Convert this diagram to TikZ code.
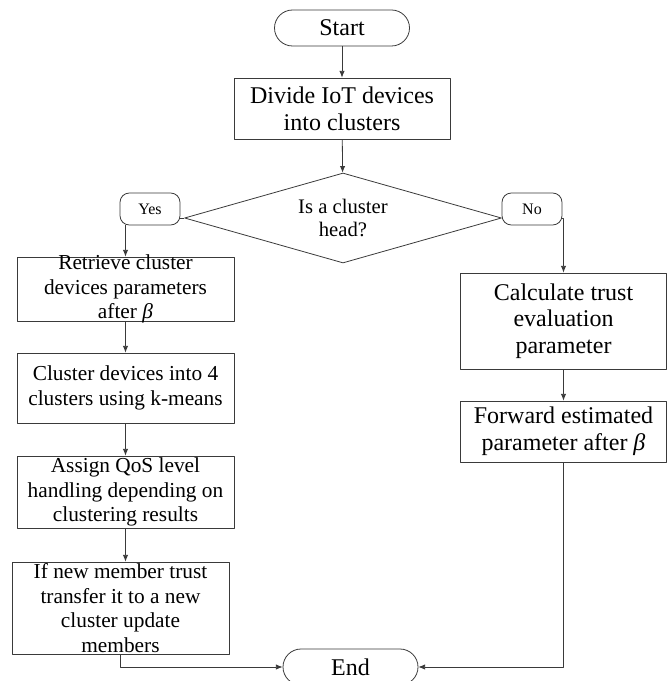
\documentclass[tikz,border=0pt]{standalone}
\usepackage{fontspec}
\setmainfont{Liberation Serif}
\usetikzlibrary{shapes.geometric,arrows.meta}
\definecolor{lncol}{HTML}{3A3A3A}
\newcommand{\tbeta}{\textit{β}}

\begin{document}
\begin{tikzpicture}[x=0.75pt,y=-0.75pt,line join=round,
  base/.style={draw=lncol,line width=0.6pt,align=center,inner sep=1pt},
  term/.style={base,rounded corners=13.5pt,minimum width=101.25pt,minimum height=27pt,
    font=\fontsize{18}{20}\selectfont},
  procL/.style={base,minimum width=162.75pt,font=\fontsize{16}{18.5}\selectfont},
  procR/.style={base,minimum width=154.5pt,font=\fontsize{18}{20}\selectfont},
  tag/.style={base,rounded corners=7pt,minimum width=45pt,minimum height=24pt,
    font=\fontsize{12}{14}\selectfont},
  decide/.style={base,diamond,aspect=3.52,inner sep=0pt,minimum width=237.75pt,
    minimum height=67.5pt,font=\fontsize{15.5}{17.5}\selectfont},
  arr/.style={draw=lncol,line width=0.6pt,-{Latex[length=5pt,width=4pt]}}]

  \useasboundingbox (0,0) rectangle (667,681);

  % top of the chart
  \node[term] (start) at (342,28) {Start};
  \node[procR,minimum width=162pt,minimum height=45.75pt] (divide) at (342,108.5)
    {Divide IoT devices\\into clusters};
  \node[decide] (dec) at (343,218) {Is a cluster\\head?};
  \node[tag] (yes) at (150,209) {Yes};
  \node[tag] (no) at (532,209) {No};

  % cluster head branch
  \node[procL,minimum height=48pt,inner ysep=-2pt] (retrieve) at (125.5,289)
    {Retrieve cluster\\devices parameters\\after \tbeta};
  \node[procL,minimum height=52.5pt] (cluster) at (125.5,388)
    {Cluster devices into 4\\clusters using k-means};
  \node[procL,minimum height=54pt,inner ysep=0pt] (assign) at (125.5,492)
    {Assign QoS level\\handling depending on\\clustering results};
  \node[procL,minimum height=69pt,inner ysep=-1pt] (ifnew) at (120.5,608)
    {If new member trust\\transfer it to a new\\cluster update\\members};

  % member branch
  \node[procR,minimum height=72pt] (calc) at (563.5,321)
    {Calculate trust\\evaluation\\parameter};
  \node[procR,minimum height=45.75pt] (forward) at (563.5,431.5)
    {Forward estimated\\parameter after \tbeta};

  \node[term] (end) at (350.5,667) {End};

  % connectors
  \draw[arr] (start) -- (divide);
  \draw[arr] (divide) -- (dec);
  \draw[draw=lncol,line width=0.6pt] (dec.west) -- (yes.east |- dec.west);
  \draw[draw=lncol,line width=0.6pt] (dec.east) -- (no.west |- dec.east);
  \draw[arr] (yes.south -| retrieve) -- (retrieve.north);
  \draw[arr] (no.east |- dec.east) -| (calc.north);
  \draw[arr] (retrieve) -- (cluster);
  \draw[arr] (cluster) -- (assign);
  \draw[arr] (assign.south) -- (assign.south |- ifnew.north);
  \draw[arr] (ifnew.south) |- (end.west);
  \draw[arr] (calc) -- (forward);
  \draw[arr] (forward.south) |- (end.east);

\end{tikzpicture}
\end{document}
